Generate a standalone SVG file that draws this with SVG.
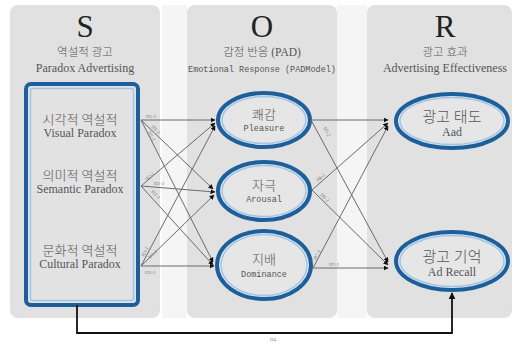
<svg xmlns="http://www.w3.org/2000/svg" width="516" height="347" viewBox="0 0 516 347">
<defs>
<style>
.panel{fill:#e1e1e1}
.big{font-family:"Liberation Serif","Noto Sans CJK KR",serif;font-size:31px;fill:#222;text-anchor:middle}
.ko{font-family:"Liberation Serif","Noto Sans CJK KR",serif;font-size:11.5px;fill:#555;text-anchor:middle;font-weight:300}
.en{font-family:"Liberation Serif",serif;font-size:12px;fill:#555;text-anchor:middle}
.nko{font-family:"Liberation Serif","Noto Sans CJK KR",serif;font-size:13px;fill:#555;text-anchor:middle;font-weight:300}
.nen{font-family:"Liberation Serif",serif;font-size:12px;fill:#555;text-anchor:middle}
.sen{font-family:"Liberation Mono",monospace;font-size:8.5px;fill:#555;text-anchor:middle}
.e1{fill:#e6e6e6;stroke:#1d5f9b;stroke-width:4}
.e2{fill:none;stroke:#9fc6e8;stroke-width:1.5}
.c{stroke:#6a6a6a;stroke-width:1;fill:none;marker-end:url(#ah)}
.h{font-family:"Liberation Serif",serif;font-size:5px;fill:#777}
</style>
<marker id="ah" viewBox="0 0 10 10" refX="9" refY="5" markerWidth="5" markerHeight="5" orient="auto" markerUnits="userSpaceOnUse">
<path d="M0,0 L10,5 L0,10 z" fill="#111"/>
</marker>
<marker id="ahb" viewBox="0 0 10 10" refX="9" refY="5" markerWidth="7" markerHeight="7" orient="auto" markerUnits="userSpaceOnUse">
<path d="M0,0 L10,5 L0,10 z" fill="#111"/>
</marker>
</defs>
<rect width="516" height="347" fill="#ffffff"/>
<rect x="162" y="5" width="25" height="313" fill="#f5f5f5"/>
<rect x="337" y="5" width="30" height="313" fill="#f5f5f5"/>

<g id="panel-S">
<rect class="panel" x="10" y="5" width="150" height="313" rx="8"/>
<text class="big" x="85" y="37">S</text>
<text class="ko" x="85" y="56">역설적 광고</text>
<text class="en" x="85" y="72">Paradox Advertising</text>
</g>
<g id="panel-O">
<rect class="panel" x="187" y="5" width="150" height="313" rx="8"/>
<text class="big" x="262" y="37">O</text>
<text class="ko" x="262" y="56">감정 반응 (PAD)</text>
<text class="sen" x="262" y="72">Emotional Response (PADModel)</text>
</g>
<g id="panel-R">
<rect class="panel" x="367" y="5" width="145" height="313" rx="8"/>
<text class="big" x="445" y="37">R</text>
<text class="ko" x="445" y="56">광고 효과</text>
<text class="en" x="445" y="72">Advertising Effectiveness</text>
</g>

<g id="node-paradox">
<rect x="26" y="84" width="112" height="221" rx="5" fill="#e2e2e2" stroke="#1d5f9b" stroke-width="4"/>
<rect x="30.5" y="88.5" width="103" height="212" rx="2" fill="none" stroke="#9fc6e8" stroke-width="1.5"/>
<text class="nko" x="80" y="124">시각적 역설적</text>
<text class="nen" x="80" y="137">Visual Paradox</text>
<text class="nko" x="80" y="180">의미적 역설적</text>
<text class="nen" x="80" y="193">Semantic Paradox</text>
<text class="nko" x="80" y="255">문화적 역설적</text>
<text class="nen" x="80" y="268">Cultural Paradox</text>
</g>

<g id="node-pleasure">
<ellipse class="e1" cx="264" cy="120" rx="46" ry="27"/>
<ellipse class="e2" cx="264" cy="120" rx="42" ry="23.5"/>
<text class="nko" x="264" y="119">쾌감</text>
<text class="sen" x="264" y="131">Pleasure</text>
</g>
<g id="node-arousal">
<ellipse class="e1" cx="264" cy="191" rx="46" ry="29"/>
<ellipse class="e2" cx="264" cy="191" rx="42" ry="25.5"/>
<text class="nko" x="264" y="190">자극</text>
<text class="sen" x="264" y="202">Arousal</text>
</g>
<g id="node-dominance">
<ellipse class="e1" cx="264" cy="265" rx="47" ry="34"/>
<ellipse class="e2" cx="264" cy="265" rx="43" ry="30.5"/>
<text class="nko" x="264" y="264">지배</text>
<text class="sen" x="264" y="277">Dominance</text>
</g>
<g id="node-aad">
<ellipse class="e1" cx="452" cy="121" rx="56" ry="27"/>
<ellipse class="e2" cx="452" cy="121" rx="52" ry="23.5"/>
<text class="nko" x="452" y="122" style="font-size:15px">광고 태도</text>
<text class="nen" x="452" y="136">Aad</text>
</g>
<g id="node-recall">
<ellipse class="e1" cx="452" cy="261" rx="56" ry="29"/>
<ellipse class="e2" cx="452" cy="261" rx="52" ry="25.5"/>
<text class="nko" x="452" y="262" style="font-size:15px">광고 기억</text>
<text class="nen" x="452" y="276">Ad Recall</text>
</g>

<g id="connectors">
<line class="c" x1="141" y1="120" x2="215" y2="120"/>
<line class="c" x1="141" y1="120" x2="213" y2="189"/>
<line class="c" x1="141" y1="120" x2="213" y2="262"/>
<line class="c" x1="141" y1="186" x2="215" y2="123"/>
<line class="c" x1="141" y1="186" x2="215" y2="192"/>
<line class="c" x1="141" y1="186" x2="213" y2="265"/>
<line class="c" x1="141" y1="266" x2="215" y2="126"/>
<line class="c" x1="141" y1="266" x2="214" y2="195"/>
<line class="c" x1="141" y1="266" x2="214" y2="266"/>
<line class="c" x1="311" y1="120" x2="388" y2="120"/>
<line class="c" x1="311" y1="120" x2="388" y2="262"/>
<line class="c" x1="312" y1="190" x2="388" y2="123"/>
<line class="c" x1="312" y1="190" x2="388" y2="265"/>
<line class="c" x1="313" y1="268" x2="388" y2="126"/>
<line class="c" x1="313" y1="268" x2="388" y2="268"/>
<path d="M77,305 V333 H452 V293" fill="none" stroke="#111" stroke-width="1.8" marker-end="url(#ahb)"/>
<text class="h" x="146" y="118">H1-1</text>
<text class="h" transform="translate(151,127) rotate(44)">H1-2</text>
<text class="h" transform="translate(148,132) rotate(64)">H1-3</text>
<text class="h" transform="translate(147,181) rotate(-41)">H2-1</text>
<text class="h" x="154" y="185">H2-2</text>
<text class="h" transform="translate(151,192) rotate(47)">H2-3</text>
<text class="h" transform="translate(144,257) rotate(-63)">H3-1</text>
<text class="h" transform="translate(150,259) rotate(-46)">H3-2</text>
<text class="h" x="145" y="274">H3-3</text>
<text class="h" transform="translate(323,128) rotate(61)">H5-2</text>
<text class="h" transform="translate(318,182) rotate(-41)">H6-1</text>
<text class="h" transform="translate(320,195) rotate(45)">H6-2</text>
<text class="h" transform="translate(316,260) rotate(-62)">H7-1</text>
<text class="h" x="329" y="266">H7-2</text>
<text class="h" x="270" y="341">H4</text>
</g>
</svg>
